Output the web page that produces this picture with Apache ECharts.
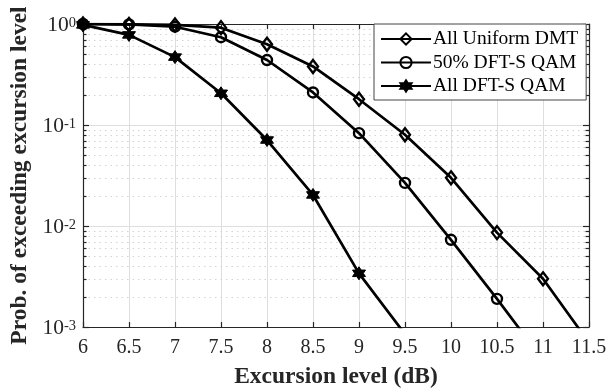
<!DOCTYPE html>
<html>
<head>
<meta charset="utf-8">
<script src="https://cdn.jsdelivr.net/npm/echarts@6/dist/echarts.min.js"></script>
<style>
  html, body { margin: 0; padding: 0; background: #fff; }
  #chart { width: 615px; height: 388px; }
</style>
</head>
<body>
<div id="chart"></div>
<script>
// Excursion level (dB) on the x axis
const excursion = [6, 6.5, 7, 7.5, 8, 8.5, 9, 9.5, 10, 10.5, 11, 11.5];

// Probability of exceeding each excursion level (null = no sample)
const uniformDMT = [1.0, 0.99, 0.98, 0.92, 0.63, 0.38, 0.18, 0.080, 0.030, 0.0086, 0.0030, 0.0007];
const dftHalf    = [1.0, 0.99, 0.94, 0.74, 0.44, 0.21, 0.083, 0.0267, 0.0073, 0.0019, 0.00047, null];
const dftAll     = [0.98, 0.78, 0.47, 0.206, 0.071, 0.0203, 0.0034, 0.00085, null, null, null, null];

// Points past the last measured sample only carry the line to the bottom edge
const lastMarked = { uniformDMT: 10, dftHalf: 9, dftAll: 6 };

const xTicks = ['6', '6.5', '7', '7.5', '8', '8.5', '9', '9.5', '10', '10.5', '11', '11.5'];
const minorLevels = [2, 3, 4, 5, 6, 7, 8, 9];
const decades = [0.001, 0.01, 0.1];

const seriesNames = ['All Uniform DMT', '50% DFT-S QAM', 'All DFT-S QAM'];

const hexagram = 'path://M50 0 L64.43 25 L93.3 25 L78.87 50 L93.3 75 L64.43 75 L50 100 L35.57 75 L6.7 75 L21.13 50 L6.7 25 L35.57 25 Z';

const FONT = '"Liberation Serif", "Times New Roman", serif';
const AXIS_COLOR = '#262626';

function pairs(values, last) {
  const out = [];
  values.forEach((v, i) => {
    if (v === null) return;
    const item = { value: [excursion[i], v] };
    if (i > last) item.symbol = 'none';
    out.push(item);
  });
  return out;
}

// Minor log-grid levels: 2..9 within each decade
const minorValues = [];
decades.forEach(d => minorLevels.forEach(m => minorValues.push(+(d * m).toPrecision(3))));

const chart = echarts.init(document.getElementById('chart'), null, { renderer: 'canvas' });

function lineSeries(name, data, symbol, size, filled) {
  return {
    name: name,
    type: 'line',
    data: data,
    symbol: symbol,
    symbolSize: size,
    showAllSymbol: true,
    clip: true,
    z: 5,
    lineStyle: { color: '#000', width: 2.7 },
    itemStyle: filled
      ? { color: '#000', borderColor: '#000', borderWidth: 1 }
      : { color: 'none', borderColor: '#000', borderWidth: 2.4 },
    emphasis: { disabled: true },
    animation: false
  };
}

const option = {
  backgroundColor: '#fff',
  animation: false,
  grid: { left: 83, right: 26, top: 24, bottom: 61, containLabel: false, outerBoundsMode: 'none' },
  legend: {
    orient: 'vertical',
    left: 374,
    top: 24,
    padding: [5, 8, 4, 6],
    itemWidth: 50,
    itemHeight: 14,
    itemGap: 3.5,
    backgroundColor: '#fff',
    borderColor: '#444',
    borderWidth: 1,
    textStyle: { fontFamily: FONT, fontSize: 19.5, color: '#000', lineHeight: 20, padding: [0, 0, 0, -3] },
    data: seriesNames,
    selectedMode: false
  },
  xAxis: [{
    type: 'value',
    min: 6,
    max: 11.5,
    interval: 0.5,
    name: 'Excursion level (dB)',
    nameLocation: 'middle',
    nameGap: 38,
    nameTextStyle: { fontFamily: FONT, fontSize: 23.5, fontWeight: 'bold', color: AXIS_COLOR },
    axisLine: { show: true, onZero: false, lineStyle: { color: AXIS_COLOR, width: 1.2 } },
    axisTick: { show: true, inside: true, length: 5, lineStyle: { color: AXIS_COLOR, width: 1.2 } },
    axisLabel: {
      fontFamily: FONT, fontSize: 20, color: AXIS_COLOR, margin: 11,
      formatter: (v) => xTicks[Math.round((v - 6) / 0.5)]
    },
    splitLine: { show: true, lineStyle: { color: '#dedede', width: 1 } }
  }, {
    type: 'value',
    position: 'top',
    min: 6,
    max: 11.5,
    interval: 0.5,
    axisLine: { show: true, onZero: false, lineStyle: { color: AXIS_COLOR, width: 1.2 } },
    axisTick: { show: true, inside: true, length: 5, lineStyle: { color: AXIS_COLOR, width: 1.2 } },
    axisLabel: { show: false },
    splitLine: { show: false }
  }],
  yAxis: [{
    type: 'log',
    logBase: 10,
    min: 0.001,
    max: 1,
    name: 'Prob. of exceeding excursion level',
    nameLocation: 'middle',
    nameGap: 46,
    nameTextStyle: { fontFamily: FONT, fontSize: 23.5, fontWeight: 'bold', color: AXIS_COLOR },
    axisLine: { show: true, onZero: false, lineStyle: { color: AXIS_COLOR, width: 1.2 } },
    axisTick: { show: true, inside: true, length: 6, lineStyle: { color: AXIS_COLOR, width: 1.2 } },
    axisLabel: {
      margin: 7,
      padding: [4, 0, 0, 0],
      formatter: (v) => '{b|10}{s|' + Math.round(Math.log10(v)) + '}',
      rich: {
        b: { fontFamily: FONT, fontSize: 21.5, color: AXIS_COLOR, verticalAlign: 'bottom', lineHeight: 21 },
        s: { fontFamily: FONT, fontSize: 14.5, color: AXIS_COLOR, verticalAlign: 'top', padding: [0, 0, 12, 0], lineHeight: 14 }
      }
    },
    splitLine: { show: true, lineStyle: { color: '#dedede', width: 1 } }
  }, {
    type: 'log',
    logBase: 10,
    min: 0.001,
    max: 1,
    position: 'right',
    axisLine: { show: true, onZero: false, lineStyle: { color: AXIS_COLOR, width: 1.2 } },
    axisTick: { show: true, inside: true, length: 6, lineStyle: { color: AXIS_COLOR, width: 1.2 } },
    axisLabel: { show: false },
    splitLine: { show: false }
  }],
  series: [
    // dotted minor grid and minor ticks for the log axis
    {
      type: 'custom',
      silent: true,
      z: 1,
      data: minorValues.map(v => [6, v]),
      encode: { x: 0, y: 1 },
      renderItem: function (params, api) {
        const cs = params.coordSys;
        const y = Math.round(api.coord([6, api.value(1)])[1]) + 0.5;
        const x0 = cs.x, x1 = cs.x + cs.width;
        return {
          type: 'group',
          children: [
            { type: 'line', shape: { x1: x0, y1: y, x2: x1, y2: y },
              style: { stroke: '#d4d4d4', lineWidth: 1, lineDash: [1.5, 4] } },
            { type: 'line', shape: { x1: x0, y1: y, x2: x0 + 3.5, y2: y },
              style: { stroke: AXIS_COLOR, lineWidth: 1.2 } },
            { type: 'line', shape: { x1: x1 - 3.5, y1: y, x2: x1, y2: y },
              style: { stroke: AXIS_COLOR, lineWidth: 1.2 } }
          ]
        };
      },
      animation: false
    },
    lineSeries(seriesNames[0], pairs(uniformDMT, lastMarked.uniformDMT), 'diamond', [10, 13], false),
    lineSeries(seriesNames[1], pairs(dftHalf, lastMarked.dftHalf), 'circle', 10, false),
    lineSeries(seriesNames[2], pairs(dftAll, lastMarked.dftAll), hexagram, 13, true)
  ]
};

chart.setOption(option);
</script>
</body>
</html>
